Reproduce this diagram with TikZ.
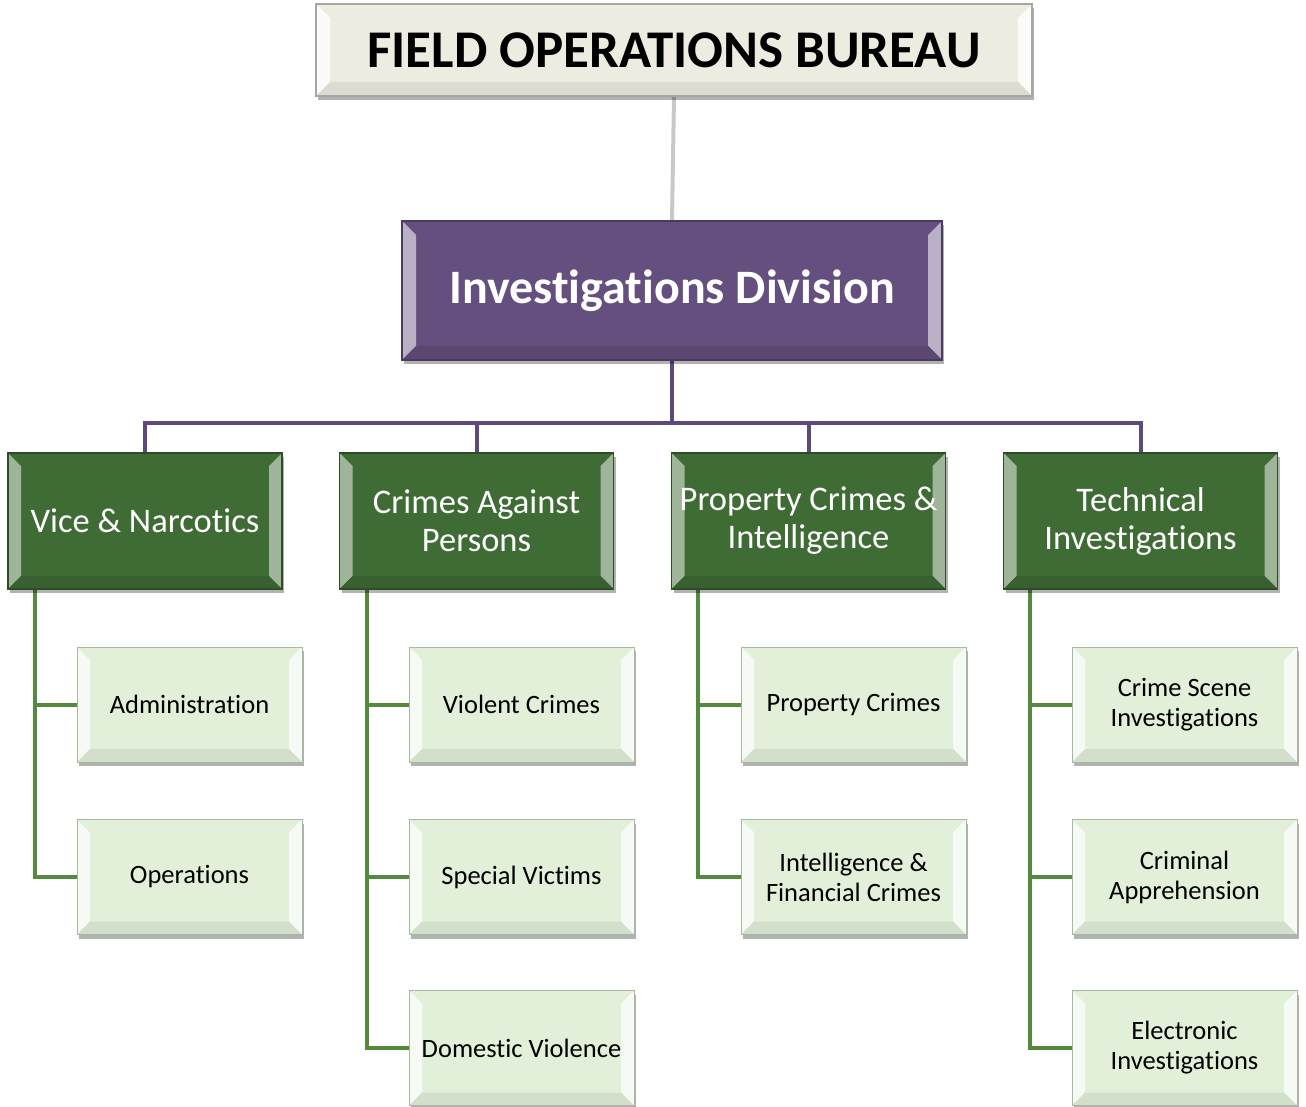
\documentclass[tikz,border=0pt]{standalone}
\usepackage{fontspec}
\setmainfont{Carlito}[Ligatures={NoCommon}]
\usetikzlibrary{shadows,backgrounds}
\definecolor{fobfill}{HTML}{EEECE1}
\definecolor{fobedge}{HTML}{A6A6A6}
\definecolor{idfill}{HTML}{654F7F}
\definecolor{idedge}{HTML}{4B3A60}
\definecolor{grfill}{HTML}{3F6B35}
\definecolor{gredge}{HTML}{2C4D25}
\definecolor{chfill}{HTML}{E2F0D9}
\definecolor{chedge}{HTML}{A8B8A0}
\definecolor{grayline}{HTML}{C8C8C8}
\definecolor{purpline}{HTML}{5F497A}
\definecolor{greenline}{HTML}{548A3E}
\newcommand{\bevelpic}[3]{%
  \fill[#1] (path picture bounding box.north west) -- (path picture bounding box.south west)
     -- ([shift={(#3pt,#3pt)}]path picture bounding box.south west) -- ([shift={(#3pt,-#3pt)}]path picture bounding box.north west) -- cycle;
  \fill[#1] (path picture bounding box.north east) -- (path picture bounding box.south east)
     -- ([shift={(-#3pt,#3pt)}]path picture bounding box.south east) -- ([shift={(-#3pt,-#3pt)}]path picture bounding box.north east) -- cycle;
  \fill[#2] (path picture bounding box.south west) -- (path picture bounding box.south east)
     -- ([shift={(-#3pt,#3pt)}]path picture bounding box.south east) -- ([shift={(#3pt,#3pt)}]path picture bounding box.south west) -- cycle;
}
\tikzset{
  x=1pt, y=-1pt,
  boxbase/.style={rectangle, inner sep=0pt, align=center,
    drop shadow={shadow xshift=2pt, shadow yshift=-4pt, opacity=0.3, fill=black}},
  fobbox/.style={boxbase, fill=fobfill, draw=fobedge, line width=1.2pt,
    minimum width=716pt, minimum height=92pt,
    font=\fontsize{53}{60}\selectfont\bfseries, text=black,
    path picture={\bevelpic{white!80!fobfill}{fobfill!93!black}{14}}},
  idbox/.style={boxbase, fill=idfill, draw=idedge, line width=1.2pt,
    minimum width=540pt, minimum height=139pt,
    font=\fontsize{48}{56}\selectfont\bfseries, text=white,
    path picture={\bevelpic{idfill!45!white}{idfill!90!black}{14}}},
  grbox/.style={boxbase, fill=grfill, draw=gredge, line width=1.2pt,
    minimum width=274pt, minimum height=136pt,
    font=\fontsize{34.5}{38}\selectfont, text=white,
    path picture={\bevelpic{grfill!50!white}{grfill!90!black}{13}}},
  chbox/.style={boxbase, fill=chfill, draw=chedge, line width=1pt,
    minimum width=225pt, minimum height=115pt,
    font=\fontsize{26.5}{30}\selectfont, text=black,
    path picture={\bevelpic{white!70!chfill}{chfill!93!black}{13}}},
  grayconn/.style={draw=grayline, line width=4pt},
  purpconn/.style={draw=purpline, line width=4pt},
  greenconn/.style={draw=greenline, line width=4pt},
}
\begin{document}
\begin{tikzpicture}
\useasboundingbox (0,0) rectangle (1306,1107);

\coordinate (bar) at (672,423);

\node[fobbox] (fob) at (674,50) {FIELD OPERATIONS BUREAU};
\node[idbox] (id) at (672,290.5) {Investigations Division};

\node[grbox] (vn) at (145,521) {Vice \& Narcotics};
\node[grbox] (cap) at (476.5,521) {Crimes Against\\Persons};
\node[grbox] (pci) at (808.5,521) {Property Crimes \&\\Intelligence};
\node[grbox] (ti) at (1140.5,521) {Technical\\Investigations};

\node[chbox] (adm) at (189.5,704.5) {Administration};
\node[chbox] (ops) at (189.5,877) {Operations};
\node[chbox] (vc) at (521.5,704.5) {Violent Crimes};
\node[chbox] (sv) at (521.5,877) {Special Victims};
\node[chbox] (dv) at (521.5,1048) {Domestic Violence};
\node[chbox] (pc) at (853.5,704.5) {Property Crimes};
\node[chbox] (ifc) at (853.5,877) {Intelligence \&\\Financial Crimes};
\node[chbox] (csi) at (1184.5,704.5) {Crime Scene\\Investigations};
\node[chbox] (ca) at (1184.5,877) {Criminal\\Apprehension};
\node[chbox] (ei) at (1184.5,1048) {Electronic\\Investigations};

\begin{scope}[on background layer]
\draw[grayconn] (fob.south) -- (id.north);
\draw[purpconn] (id.south) -- (id.south |- bar);
\draw[purpconn] (vn.north) -- (vn.north |- bar) -- (ti.north |- bar) -- (ti.north);
\draw[purpconn] (cap.north) -- (cap.north |- bar);
\draw[purpconn] (pci.north) -- (pci.north |- bar);

\coordinate (vnl) at ([xshift=28pt]vn.south west);
\coordinate (capl) at ([xshift=28pt]cap.south west);
\coordinate (pcil) at ([xshift=27pt]pci.south west);
\coordinate (til) at ([xshift=27pt]ti.south west);

\draw[greenconn] (vnl) |- (ops.west);
\draw[greenconn] (vnl |- adm.west) -- (adm.west);
\draw[greenconn] (capl) |- (dv.west);
\draw[greenconn] (capl |- vc.west) -- (vc.west);
\draw[greenconn] (capl |- sv.west) -- (sv.west);
\draw[greenconn] (pcil) |- (ifc.west);
\draw[greenconn] (pcil |- pc.west) -- (pc.west);
\draw[greenconn] (til) |- (ei.west);
\draw[greenconn] (til |- csi.west) -- (csi.west);
\draw[greenconn] (til |- ca.west) -- (ca.west);
\end{scope}
\end{tikzpicture}
\end{document}
